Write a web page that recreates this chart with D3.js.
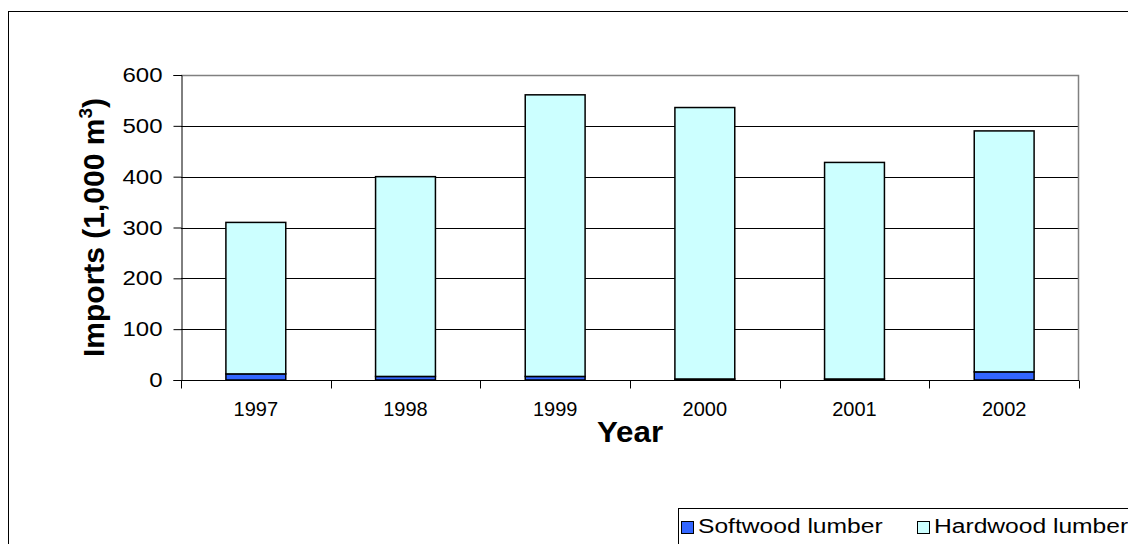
<!DOCTYPE html>
<html><head><meta charset="utf-8">
<script src="https://cdn.jsdelivr.net/npm/d3@7"></script>
<style>html,body{margin:0;padding:0;background:#fff;}svg{display:block;font-family:"Liberation Sans",Arial,sans-serif;}</style>
</head><body>
<svg id="c" width="1128" height="544"></svg>
<script>
const years = ["1997","1998","1999","2000","2001","2002"];
const softwood = [12, 7, 7, 2, 2, 16];
const hardwood = [298, 393, 554, 534, 426, 474];
const yTicks = [0,100,200,300,400,500,600];
const seriesNames = ["Softwood lumber","Hardwood lumber"];
const seriesColors = ["#3366FF","#CCFFFF"];

const svg = d3.select("#c");
const L=181, R=1079, T=75, B=380;
const x = d3.scaleBand().domain(years).range([L,R]).paddingInner(0.6).paddingOuter(0.3);
const xb = d3.scaleBand().domain(years).range([L,R]);
const y = d3.scaleLinear().domain([0,600]).range([B,T]);
const FF = "Liberation Sans, Arial, sans-serif";
function stretch(sel, k){ sel.each(function(){ const w=this.getComputedTextLength(); d3.select(this).attr("textLength", w*k).attr("lengthAdjust","spacingAndGlyphs"); }); }

// outer frame
svg.append("rect").attr("x",8.5).attr("y",11.5).attr("width",1130).attr("height",540)
  .attr("fill","none").attr("stroke","#000").attr("stroke-width",1);

// gridlines
svg.append("g").selectAll("line").data(yTicks.filter(d=>d>0&&d<600)).join("line")
  .attr("x1",L).attr("x2",R).attr("y1",d=>Math.round(y(d))+0.5).attr("y2",d=>Math.round(y(d))+0.5)
  .attr("stroke","#000").attr("stroke-width",1);
// plot border top/right
svg.append("path").attr("d",`M${L},${T+0.5}H${R-0.5}V${B}`).attr("fill","none").attr("stroke","#808080").attr("stroke-width",1.5);

// stacked bars
const data = years.map((yr,i)=>({year:yr, s:softwood[i], h:hardwood[i]}));
const stack = d3.stack().keys(["s","h"])(data);
svg.append("g").selectAll("g").data(stack).join("g")
  .attr("fill",(d,i)=>seriesColors[i])
  .selectAll("rect").data(d=>d).join("rect")
  .attr("x",d=>x(d.data.year)).attr("width",x.bandwidth())
  .attr("y",d=>y(d[1])).attr("height",d=>y(d[0])-y(d[1]))
  .attr("stroke","#000").attr("stroke-width",1.5);

// y axis
const ya = svg.append("g").attr("transform",`translate(${L+0.5},0)`)
  .call(d3.axisLeft(y).tickValues(yTicks).tickSize(8).tickPadding(11));
ya.select(".domain").attr("stroke","#000");
ya.selectAll(".tick line").attr("stroke","#000");
ya.selectAll("text").attr("font-size",20.5).attr("fill","#000").attr("font-family",FF);
stretch(ya.selectAll("text"), 1.17);

// x axis
const xa = svg.append("g").attr("transform",`translate(0,${B+0.5})`)
  .call(d3.axisBottom(xb).tickSize(0).tickPadding(21));
xa.select(".domain").attr("stroke","#000").attr("d",`M${L},0H${R}`);
xa.selectAll("text").attr("font-size",20).attr("fill","#000").attr("font-family",FF);
const bounds = years.map(d=>xb(d)).concat([R]);
xa.append("g").selectAll("line").data(bounds).join("line")
  .attr("x1",d=>Math.round(d)+0.5).attr("x2",d=>Math.round(d)+0.5).attr("y1",0).attr("y2",8).attr("stroke","#000");

// axis titles
const xt = svg.append("text").attr("x",(L+R)/2).attr("y",442).attr("text-anchor","middle")
  .attr("font-size",29).attr("font-weight","bold").text("Year");
stretch(xt, 1.08);
const yt = svg.append("text").attr("transform",`translate(104,${(T+B)/2}) rotate(-90)`).attr("text-anchor","middle")
  .attr("font-size",30).attr("font-weight","bold");
yt.append("tspan").text("Imports (1,000 m");
yt.append("tspan").attr("font-size",19).attr("dy",-12).text("3");
yt.append("tspan").attr("dy",12).text(")");

// legend
const lg = svg.append("g");
lg.append("rect").attr("x",678.5).attr("y",508.5).attr("width",480).attr("height",40).attr("fill","#fff").attr("stroke","#000");
const lx = [681, 917];
seriesNames.forEach((n,i)=>{
  lg.append("rect").attr("x",lx[i]+0.5).attr("y",521.5).attr("width",12).attr("height",12)
    .attr("fill",seriesColors[i]).attr("stroke","#000");
  const t = lg.append("text").attr("x",lx[i]+17).attr("y",533).attr("font-size",20).text(n);
  stretch(t, 1.23);
});
</script>
</body></html>
